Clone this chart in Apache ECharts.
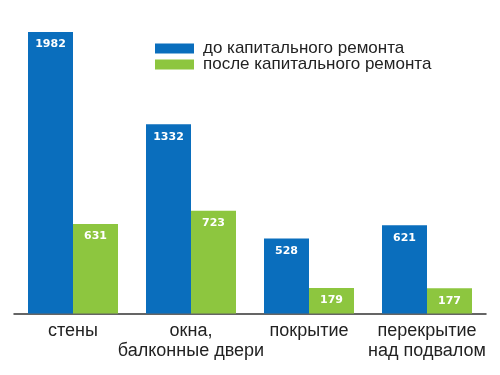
<!DOCTYPE html>
<html><head><meta charset="utf-8">
<script src="https://cdn.jsdelivr.net/npm/echarts@6/dist/echarts.min.js"></script>
<style>html,body{margin:0;padding:0;background:#fff}#c{width:500px;height:375px}</style>
</head><body><div id="c"></div>
<script>
const categories = ['стены', 'окна,\nбалконные двери', 'покрытие', 'перекрытие\nнад подвалом'];
const seriesNames = ['до капитального ремонта', 'после капитального ремонта'];
const before = [1982, 1332, 528, 621];
const after = [631, 723, 179, 177];
const colors = ['#0a6ebd', '#8dc63f'];

const chart = echarts.init(document.getElementById('c'), null, {renderer: 'canvas'});
const label = {show: true, position: 'insideTop', distance: 7, color: '#fff', fontWeight: 'bold', fontSize: 11, fontFamily: 'DejaVu Sans'};
chart.setOption({
  animation: false,
  grid: {left: 14, right: 14, top: 29.5, bottom: 61.5},
  legend: {
    orient: 'vertical', left: 150, top: 35, itemWidth: 39, itemHeight: 10, itemGap: -1, icon: 'rect',
    textStyle: {fontSize: 17, color: '#222', fontFamily: 'Liberation Sans', padding: [0, 0, 0, 4]},
    data: seriesNames
  },
  xAxis: {
    type: 'category', data: categories,
    axisLine: {lineStyle: {color: '#333', width: 1.5}},
    axisTick: {show: false},
    axisLabel: {fontSize: 18, color: '#222', fontFamily: 'Liberation Sans', margin: 8, lineHeight: 20, interval: 0}
  },
  yAxis: {type: 'value', min: 0, max: 2000, show: false, splitLine: {show: false}},
  series: [
    {name: seriesNames[0], type: 'bar', data: before, barWidth: 45, barGap: '0%', itemStyle: {color: colors[0]}, label: label},
    {name: seriesNames[1], type: 'bar', data: after, barWidth: 45, barGap: '0%', itemStyle: {color: colors[1]}, label: label}
  ]
});
</script></body></html>
